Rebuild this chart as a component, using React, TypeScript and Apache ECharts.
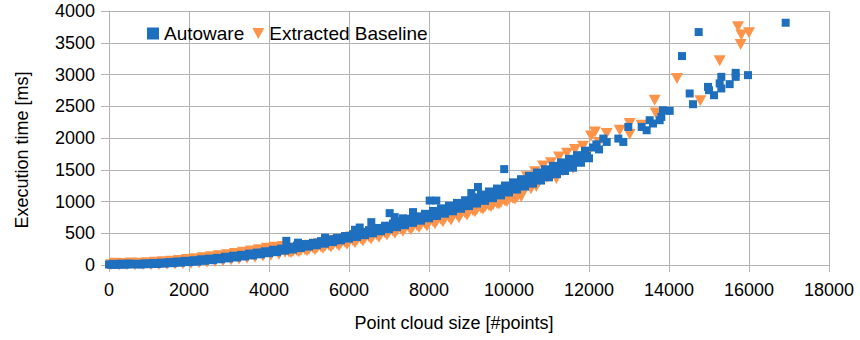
import React, { useEffect, useRef } from "react";
import * as echarts from "echarts";

// Axis ranges
const X_MIN = 0;
const X_MAX = 18000;
const X_STEP = 2000;
const Y_MIN = 0;
const Y_MAX = 4000;
const Y_STEP = 500;

const SERIES_NAMES = ["Autoware", "Extracted Baseline"];
const AXIS_TITLES = { x: "Point cloud size [#points]", y: "Execution time [ms]" };

// Autoware: [point cloud size, execution time ms]
const autowareBand: [number, number][] = [
  [0, 8], [100, 18], [200, 3], [300, 21], [400, 6], [500, 24], [600, 10], [700, 20], [800, 7], [900, 26],
  [1000, 12], [1100, 31], [1200, 15], [1300, 38], [1400, 22], [1500, 45], [1600, 28], [1700, 55], [1800, 36], [1900, 66],
  [2000, 45], [2100, 74], [2200, 52], [2300, 90], [2400, 66], [2500, 100], [2600, 76], [2700, 112], [2800, 90], [2900, 130],
  [3000, 104], [3100, 146], [3200, 118], [3300, 160], [3400, 134], [3500, 180], [3600, 150], [3700, 196], [3800, 168], [3900, 216],
  [4000, 186], [4100, 240], [4200, 202], [4300, 258], [4400, 226], [4500, 284], [4600, 244], [4700, 308], [4800, 268], [4900, 330],
  [5000, 290], [5100, 350], [5200, 312], [5300, 376], [5400, 336], [5500, 402], [5600, 362], [5700, 428], [5800, 388], [5900, 456],
  [6000, 416], [6100, 486], [6200, 442], [6300, 516], [6400, 470], [6500, 550], [6600, 500], [6700, 584], [6800, 532], [6900, 618],
  [7000, 564], [7100, 652], [7200, 596], [7300, 690], [7400, 628], [7500, 728], [7600, 664], [7700, 766], [7800, 698], [7900, 806],
  [8000, 736], [8100, 852], [8200, 772], [8300, 892], [8400, 808], [8500, 934], [8600, 846], [8700, 978], [8800, 886], [8900, 1020],
  [9000, 928], [9100, 1066], [9200, 968], [9300, 1110], [9400, 1010], [9500, 1158], [9600, 1052], [9700, 1204], [9800, 1096], [9900, 1252],
  [10000, 1142], [10100, 1302], [10200, 1188], [10300, 1352], [10400, 1234], [10500, 1404], [10600, 1282], [10700, 1456], [10800, 1330], [10900, 1508],
  [11000, 1380], [11100, 1562], [11200, 1430], [11300, 1616], [11400, 1480], [11500, 1672], [11600, 1532], [11700, 1730], [11800, 1610], [11900, 1800],
  [12000, 1680],
];

const autowareMid: [number, number][] = [
  [50, 4], [150, 10], [250, 12], [350, 8], [450, 14], [550, 12], [650, 16], [750, 13], [850, 18], [950, 17],
  [1050, 20], [1150, 22], [1250, 27], [1350, 30], [1450, 34], [1550, 36], [1650, 42], [1750, 46], [1850, 51], [1950, 55],
  [2050, 60], [2150, 67], [2250, 72], [2350, 76], [2450, 84], [2550, 91], [2650, 96], [2750, 104], [2850, 110], [2950, 118],
  [3050, 126], [3150, 132], [3250, 141], [3350, 150], [3450, 157], [3550, 166], [3650, 176], [3750, 184], [3850, 194], [3950, 202],
  [4050, 214], [4150, 222], [4250, 234], [4350, 243], [4450, 255], [4550, 265], [4650, 277], [4750, 288], [4850, 300], [4950, 311],
  [5050, 324], [5150, 335], [5250, 349], [5350, 360], [5450, 375], [5550, 387], [5650, 402], [5750, 414], [5850, 429], [5950, 442],
  [6050, 458], [6150, 471], [6250, 487], [6350, 501], [6450, 518], [6550, 532], [6650, 549], [6750, 564], [6850, 581], [6950, 596],
  [7050, 615], [7150, 630], [7250, 649], [7350, 665], [7450, 684], [7550, 700], [7650, 720], [7750, 736], [7850, 757], [7950, 774],
  [8050, 795], [8150, 812], [8250, 833], [8350, 851], [8450, 873], [8550, 891], [8650, 913], [8750, 932], [8850, 955], [8950, 974],
  [9050, 997], [9150, 1016], [9250, 1040], [9350, 1060], [9450, 1085], [9550, 1105], [9650, 1130], [9750, 1151], [9850, 1176], [9950, 1197],
  [10050, 1223], [10150, 1245], [10250, 1271], [10350, 1293], [10450, 1319], [10550, 1342], [10650, 1369], [10750, 1392], [10850, 1420], [10950, 1444],
  [11050, 1471], [11150, 1495], [11250, 1524], [11350, 1548], [11450, 1577], [11550, 1602], [11650, 1632], [11750, 1657], [11850, 1690], [11950, 1716],
];

const autowareSpikes: [number, number][] = [
  [4433, 380], [4725, 352], [5400, 430], [6150, 555], [6267, 590], [6558, 675], [7017, 817], [7142, 754],
  [7350, 735], [7600, 833], [8017, 1015], [8183, 1015], [9058, 1133], [9225, 1228], [9880, 1510],
];

const autowareTail: [number, number][] = [
  [12100, 1850], [12183, 1900], [12250, 1820], [12358, 1991], [12442, 1938], [12733, 1991], [12858, 1938],
  [12983, 2174], [13317, 2174], [13442, 2122], [13517, 2280], [13600, 2228], [13767, 2280], [13808, 2332],
  [13850, 2437], [14017, 2427], [14325, 3290], [14517, 2701], [14600, 2532], [14742, 3668], [14975, 2805],
  [15000, 2753], [15125, 2674], [15267, 2859], [15308, 2963], [15308, 2780], [15517, 2848], [15667, 3026],
  [15667, 2963], [15975, 2990], [16917, 3815],
];

// Extracted Baseline: [point cloud size, execution time ms]
const baselineBand: [number, number][] = [
  [50, 2], [150, 27], [250, 0], [350, 25], [450, 5], [550, 30], [650, 1], [750, 28], [850, 6], [950, 35],
  [1050, 4], [1150, 42], [1250, 8], [1350, 50], [1450, 10], [1550, 61], [1650, 15], [1750, 72], [1850, 21], [1950, 86],
  [2050, 28], [2150, 98], [2250, 36], [2350, 113], [2450, 45], [2550, 128], [2650, 56], [2750, 146], [2850, 67], [2950, 162],
  [3050, 80], [3150, 181], [3250, 93], [3350, 199], [3450, 108], [3550, 220], [3650, 124], [3750, 240], [3850, 140], [3950, 262],
  [4050, 154], [4150, 278], [4250, 170], [4350, 292],
  [4450, 246], [4550, 195], [4650, 266], [4750, 210], [4850, 290], [4950, 225], [5050, 312], [5150, 240], [5250, 338], [5350, 262],
  [5450, 360], [5550, 285], [5650, 388], [5750, 305], [5850, 414], [5950, 325], [6050, 442], [6150, 350], [6250, 470], [6350, 378],
  [6450, 500], [6550, 408], [6650, 530], [6750, 438], [6850, 560], [6950, 474], [7050, 594], [7150, 500], [7250, 628], [7350, 530],
  [7450, 662], [7550, 556], [7650, 696], [7750, 590], [7850, 732], [7950, 614], [8050, 770], [8150, 650], [8250, 806], [8350, 680],
  [8450, 846], [8550, 710], [8650, 884], [8750, 746], [8850, 924], [8950, 786], [9050, 966], [9150, 840], [9250, 1008], [9350, 880],
  [9450, 1050], [9550, 920], [9650, 1096], [9750, 960], [9850, 1140], [9950, 1000], [10050, 1186], [10150, 1040], [10250, 1232], [10308, 1080],
  [10450, 1390], [10550, 1200], [10650, 1470], [10683, 1238], [10750, 1310], [10850, 1560], [10950, 1380], [11050, 1610], [11183, 1364], [11250, 1700],
  [11350, 1480], [11450, 1760], [11550, 1590], [11600, 1522], [11650, 1820], [11750, 1680], [11850, 1870], [11950, 1740], [12050, 2030], [12150, 2095],
  [12250, 1930],
];

const baselineMid: [number, number][] = [
  [4400, 200], [4500, 205], [4600, 212], [4700, 222], [4800, 232], [4900, 242], [5000, 250], [5100, 262], [5200, 272], [5300, 285],
  [5400, 296], [5500, 308], [5600, 320], [5700, 332], [5800, 345], [5900, 356], [6000, 368], [6100, 382], [6200, 395], [6300, 410],
  [6400, 424], [6500, 440], [6600, 455], [6700, 470], [6800, 486], [6900, 502], [7000, 518], [7100, 532], [7200, 548], [7300, 562],
  [7400, 578], [7500, 592], [7600, 608], [7700, 622], [7800, 638], [7900, 652], [8000, 670], [8100, 686], [8200, 702], [8300, 718],
  [8400, 736], [8500, 752], [8600, 770], [8700, 786], [8800, 804], [8900, 820], [9000, 840], [9100, 856], [9200, 876], [9300, 894],
  [9400, 912], [9500, 932], [9600, 950], [9700, 970], [9800, 990], [9900, 1008], [10000, 1030], [10100, 1048], [10200, 1068], [10300, 1090],
];

const baselineTail: [number, number][] = [
  [12442, 2069], [12767, 2122], [13017, 2228], [13017, 2059], [13317, 2201], [13642, 2596], [13667, 2395],
  [14200, 2938], [14783, 2585], [15267, 3216], [15725, 3752], [15792, 3474], [15808, 3621], [16000, 3657],
];

const BLUE = "#1f6fbf";
const ORANGE = "#fd944a";
const GRID = "#b3b3b3";
const FONT = "'Liberation Sans', Arial, sans-serif";
const DOWN_TRIANGLE = "path://M0,0L12,0L6,11Z";

const plain = (v: number) => String(v);

export default function App() {
  const ref = useRef<HTMLDivElement>(null);

  useEffect(() => {
    if (!ref.current) return;
    const chart = echarts.init(ref.current, null, { renderer: "svg" });
    chart.setOption({
      animation: false,
      backgroundColor: "#ffffff",
      textStyle: { fontFamily: FONT },
      grid: { left: 109, right: 31, top: 11, bottom: 75 },
      legend: {
        left: 142,
        top: 19,
        itemWidth: 12,
        itemHeight: 12,
        itemGap: 8,
        textStyle: { fontSize: 19, color: "#000", fontFamily: FONT },
        data: [
          { name: SERIES_NAMES[0], icon: "rect" },
          { name: SERIES_NAMES[1], icon: DOWN_TRIANGLE },
        ],
      },
      xAxis: {
        type: "value",
        min: X_MIN,
        max: X_MAX,
        interval: X_STEP,
        axisLine: { show: true, lineStyle: { color: GRID, width: 1 } },
        axisTick: { show: true, length: 7, lineStyle: { color: GRID } },
        axisLabel: { fontSize: 18, color: "#000", margin: 16, fontFamily: FONT, formatter: plain },
        splitLine: { show: true, lineStyle: { color: GRID, width: 1 } },
      },
      yAxis: {
        type: "value",
        min: Y_MIN,
        max: Y_MAX,
        interval: Y_STEP,
        axisLine: { show: true, lineStyle: { color: GRID, width: 1 } },
        axisTick: { show: true, length: 8, lineStyle: { color: GRID } },
        axisLabel: { fontSize: 18, color: "#000", margin: 14, fontFamily: FONT, formatter: plain },
        splitLine: { show: true, lineStyle: { color: GRID, width: 1 } },
      },
      graphic: [
        {
          type: "text",
          x: 454,
          y: 323,
          style: {
            text: AXIS_TITLES.x,
            fontSize: 18,
            fontFamily: FONT,
            fill: "#000",
            align: "center",
            verticalAlign: "middle",
            textAlign: "center",
            textVerticalAlign: "middle",
          },
        },
        {
          type: "text",
          x: 22,
          y: 150,
          rotation: Math.PI / 2,
          style: {
            text: AXIS_TITLES.y,
            fontSize: 18,
            fontFamily: FONT,
            fill: "#000",
            align: "center",
            verticalAlign: "middle",
            textAlign: "center",
            textVerticalAlign: "middle",
          },
        },
      ],
      series: [
        {
          name: SERIES_NAMES[0],
          type: "scatter",
          symbol: "rect",
          symbolSize: 8,
          z: 3,
          itemStyle: { color: BLUE, opacity: 1 },
          data: [...autowareBand, ...autowareMid, ...autowareSpikes, ...autowareTail],
        },
        {
          name: SERIES_NAMES[1],
          type: "scatter",
          symbol: DOWN_TRIANGLE,
          symbolSize: [12, 11],
          z: 2,
          itemStyle: { color: ORANGE, opacity: 1 },
          data: [...baselineBand, ...baselineMid, ...baselineTail],
        },
      ],
    });
    return () => chart.dispose();
  }, []);

  return (
    <div
      ref={ref}
      style={{ position: "fixed", left: 0, top: 0, width: 860, height: 340 }}
    />
  );
}
